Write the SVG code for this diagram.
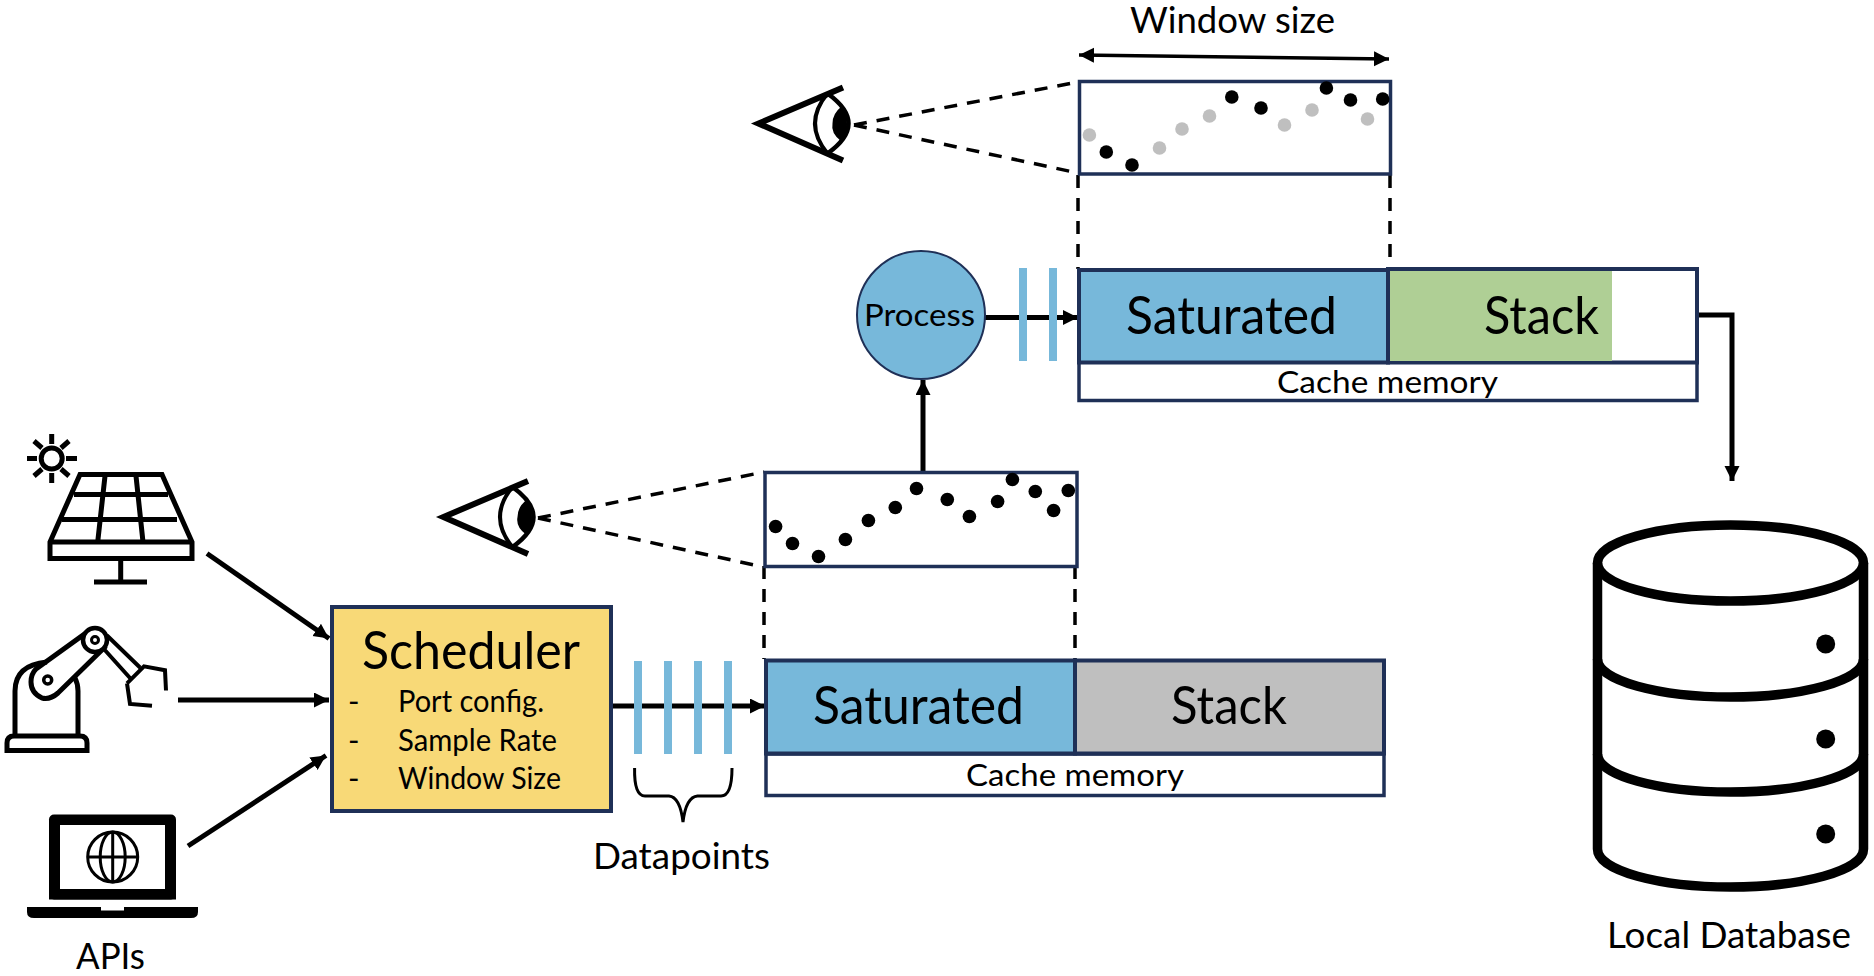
<svg xmlns="http://www.w3.org/2000/svg" xmlns:xlink="http://www.w3.org/1999/xlink" width="1874" height="976" viewBox="0 0 1874 976">
<style>
text{font-family:"Lato","Carlito","Liberation Sans",sans-serif;fill:#000}
.box{stroke:#1f3057;stroke-width:4}
.thin{stroke:#1f3057;stroke-width:3.5;fill:#fff}
.blue{fill:#77b8da}
.conn{fill:none;stroke:#000;stroke-width:5}
.dash{fill:none;stroke:#000;stroke-width:3.5;stroke-dasharray:13 10}
.ico{fill:none;stroke:#000;stroke-width:5}
.big{font-size:52px}
.mid{font-size:36px}
.sub{font-size:31px}
.dot{fill:#000}
.gry{fill:#bfbfbf}
</style>
<defs>
<marker id="ah" markerUnits="userSpaceOnUse" markerWidth="18" markerHeight="16" refX="15" refY="7.500" orient="auto-start-reverse"><path d="M0,0L15,7.500L0,15Z" fill="#000"/></marker>
<g id="eye">
<path fill="none" stroke="#000" stroke-width="6" d="M88.500,-36L4,0L88.500,37"/>
<path fill="none" stroke="#000" stroke-width="4" d="M73,-30Q48,0 73,30"/>
<path fill="none" stroke="#000" stroke-width="4.500" d="M73,-30Q115,0 73,30"/>
<path fill="#000" d="M87,-17Q98,0 87,18Q76,10 78,0Q78,-10 87,-17Z"/>
</g>
</defs>

<g id="connectors">
<path class="conn" marker-end="url(#ah)" d="M207,553.500L329,638.500"/>
<path class="conn" marker-end="url(#ah)" d="M178,700L329,700"/>
<path class="conn" marker-end="url(#ah)" d="M188,846L326,755.500"/>
<path class="conn" marker-end="url(#ah)" d="M612,706L765,706"/>
<path class="conn" marker-end="url(#ah)" d="M923,472L923,380"/>
<path class="conn" marker-end="url(#ah)" d="M985,317.500L1078,317.500"/>
<path class="conn" marker-end="url(#ah)" d="M1699,315L1732,315L1732,481"/>
<path fill="none" stroke="#000" stroke-width="3.500" marker-start="url(#ah)" marker-end="url(#ah)" d="M1079,55L1389,59"/>
<path class="dash" d="M538,518L764,472"/>
<path class="dash" d="M538,518L759,566"/>
<path class="dash" d="M854,125L1078,82"/>
<path class="dash" d="M854,125L1078,173"/>
<path class="dash" d="M764,566L764,659"/>
<path class="dash" d="M1075,566L1075,659"/>
<path class="dash" d="M1078,175L1078,269"/>
<path class="dash" d="M1390,175L1390,269"/>
</g>

<g id="solar-panel">
<circle class="ico" cx="51.700" cy="458.500" r="10.500"/>
<path class="ico" d="M51.700,434V444M51.700,473V483M27,458.500H37M66,458.500H77M34,441L42,448M61,469L69,476M34,476L42,469M61,448L69,441"/>
<path class="ico" d="M80,474.500H162L192,542V558.500H50V542Z"/>
<path class="ico" d="M50,542H192M74,494.500H168M62,519.500H177M105,476L97.700,542M136,476L143,542M120.700,559V582M94,582H147"/>
</g>

<g id="robot-arm">
<path class="ico" d="M7,750.500V743Q7,736 14,736H80Q87,736 87,743V750.500Z"/>
<path class="ico" d="M15,736V691Q15,665 47,662M78,736V691Q78,684 75,678"/>
<path class="ico" d="M36,669L86,633L104,648L58,693Q50,700 42,698Q31,693 31,682Q31,674 36,669Z"/>
<circle fill="none" stroke="#000" stroke-width="3.500" cx="47.700" cy="680" r="4"/>
<circle cx="95" cy="640" r="12" fill="#fff" stroke="#000" stroke-width="4.500"/>
<circle cx="95" cy="640" r="3.500" fill="none" stroke="#000" stroke-width="3"/>
<path fill="none" stroke="#000" stroke-width="4" d="M103,648L130,678M107,635.500L140,667.500M127,683.400L144,666.400L165,670.300L166,690.500M127,683.400L130,704L152,705.800"/>
</g>

<g id="laptop">
<rect x="49" y="814.500" width="127" height="85" rx="5" fill="#000"/>
<path fill="#000" d="M49,880H176V899.500H49Z"/>
<rect x="60" y="825" width="105" height="64" fill="#fff"/>
<path fill="#000" d="M27,907H101V910.500H124V907H198V912Q198,918 191,918H34Q27,918 27,912Z"/>
<g fill="none" stroke="#000" stroke-width="3">
<circle cx="112.700" cy="857" r="25"/>
<ellipse cx="112.700" cy="857" rx="12.500" ry="25"/>
<path d="M112.700,832V882M88,857H138"/>
</g>
<text x="76" y="969" class="mid" textLength="69" lengthAdjust="spacingAndGlyphs">APIs</text>
</g>

<g id="scheduler">
<rect class="box" x="332" y="607" width="279" height="204" fill="#f8d977"/>
<text x="362" y="669" class="big" textLength="218" lengthAdjust="spacingAndGlyphs">Scheduler</text>
<text x="348" y="712" class="sub">-</text>
<text x="348" y="751" class="sub">-</text>
<text x="348" y="789" class="sub">-</text>
<text x="398" y="712" class="sub" textLength="146" lengthAdjust="spacingAndGlyphs">Port config.</text>
<text x="398" y="751" class="sub" textLength="159" lengthAdjust="spacingAndGlyphs">Sample Rate</text>
<text x="398" y="789" class="sub" textLength="163" lengthAdjust="spacingAndGlyphs">Window Size</text>
</g>

<g id="datapoints">
<rect class="blue" x="634" y="661" width="8" height="93"/>
<rect class="blue" x="664" y="661" width="8" height="93"/>
<rect class="blue" x="694" y="661" width="8" height="93"/>
<rect class="blue" x="724" y="661" width="8" height="93"/>
<path fill="none" stroke="#000" stroke-width="3" d="M634.600,768Q634,796 645,796H669Q680,797 683,822Q686,797 697.500,796H721Q732,796 732,768"/>
<text x="593" y="869" class="mid" textLength="177" lengthAdjust="spacingAndGlyphs">Datapoints</text>
</g>

<g id="lower-cache">
<rect class="thin" x="766" y="754" width="618" height="41.500"/>
<rect class="box" x="1075" y="660.500" width="309" height="93" fill="#bfbfbf"/>
<rect class="box blue" x="766" y="660.500" width="309" height="93"/>
<text x="813" y="724" class="big" textLength="211" lengthAdjust="spacingAndGlyphs">Saturated</text>
<text x="1171" y="724" class="big" textLength="116" lengthAdjust="spacingAndGlyphs">Stack</text>
<text x="966" y="786" class="sub" textLength="218" lengthAdjust="spacingAndGlyphs">Cache memory</text>
</g>

<g id="lower-window">
<rect class="thin" x="765" y="472.500" width="312" height="94"/>
<g class="dot">
<circle cx="775.600" cy="526.500" r="6.800"/><circle cx="792.500" cy="543.500" r="6.800"/><circle cx="818.500" cy="556.500" r="6.800"/><circle cx="845.400" cy="539.500" r="6.800"/><circle cx="868.400" cy="520.500" r="6.800"/><circle cx="895.300" cy="507.500" r="6.800"/><circle cx="916.500" cy="488.500" r="6.800"/><circle cx="947.300" cy="499.500" r="6.800"/><circle cx="969.400" cy="516.500" r="6.800"/><circle cx="997.600" cy="501.500" r="6.800"/><circle cx="1012.400" cy="479.500" r="6.800"/><circle cx="1035.300" cy="491.500" r="6.800"/><circle cx="1053.600" cy="510.500" r="6.800"/><circle cx="1068.300" cy="490.500" r="6.800"/>
</g>
</g>

<g id="lower-eye"><use xlink:href="#eye" href="#eye" transform="translate(439.500,517)"/></g>
<g id="upper-eye"><use xlink:href="#eye" href="#eye" transform="translate(754.500,123.500)"/></g>

<g id="upper-window">
<rect class="thin" x="1079.500" y="81.500" width="311" height="92.500"/>
<g class="gry">
<circle cx="1089.400" cy="135" r="6.800"/><circle cx="1159.500" cy="148" r="6.800"/><circle cx="1182" cy="129" r="6.800"/><circle cx="1209.500" cy="116" r="6.800"/><circle cx="1284.500" cy="125" r="6.800"/><circle cx="1312" cy="110" r="6.800"/><circle cx="1367.500" cy="119" r="6.800"/>
</g>
<g class="dot">
<circle cx="1106.300" cy="152" r="6.800"/><circle cx="1132" cy="165" r="6.800"/><circle cx="1231.800" cy="97" r="6.800"/><circle cx="1261" cy="108" r="6.800"/><circle cx="1326.400" cy="88" r="6.800"/><circle cx="1350.500" cy="100" r="6.800"/><circle cx="1382.700" cy="99" r="6.800"/>
</g>
<text x="1130" y="33" class="mid" textLength="205" lengthAdjust="spacingAndGlyphs">Window size</text>
</g>

<g id="process">
<rect class="blue" x="1019" y="268" width="8" height="93"/>
<rect class="blue" x="1049" y="268" width="8" height="93"/>
<circle cx="921" cy="315" r="64" class="blue" stroke="#1f3057" stroke-width="2"/>
<text x="864" y="326" class="sub" textLength="111" lengthAdjust="spacingAndGlyphs">Process</text>
</g>

<g id="upper-cache">
<rect class="thin" x="1079" y="362" width="618" height="38.500"/>
<rect class="box" x="1388" y="269" width="309" height="93.500" fill="#fff"/>
<rect x="1390" y="271" width="222" height="90" fill="#afcf95"/>
<rect class="box blue" x="1079" y="270" width="309" height="92.500"/>
<text x="1126" y="334" class="big" textLength="211" lengthAdjust="spacingAndGlyphs">Saturated</text>
<text x="1484" y="334" class="big" textLength="115" lengthAdjust="spacingAndGlyphs">Stack</text>
<text x="1277" y="393" class="sub" textLength="221" lengthAdjust="spacingAndGlyphs">Cache memory</text>
</g>

<g id="local-database">
<g fill="none" stroke="#000" stroke-width="9.500">
<ellipse cx="1730.500" cy="563" rx="133" ry="38"/>
<path d="M1597.500,563V849C1597.500,871 1660,887 1730.500,887C1801,887 1863.500,871 1863.500,849V563"/>
<path d="M1597.500,659C1597.500,681 1660,697 1730.500,697C1801,697 1863.500,681 1863.500,659"/>
<path d="M1597.500,754C1597.500,776 1660,792 1730.500,792C1801,792 1863.500,776 1863.500,754"/>
</g>
<circle cx="1825.700" cy="644" r="9.500"/><circle cx="1825.700" cy="739" r="9.500"/><circle cx="1825.700" cy="834" r="9.500"/>
<text x="1607" y="948" class="mid" textLength="244" lengthAdjust="spacingAndGlyphs">Local Database</text>
</g>
</svg>
